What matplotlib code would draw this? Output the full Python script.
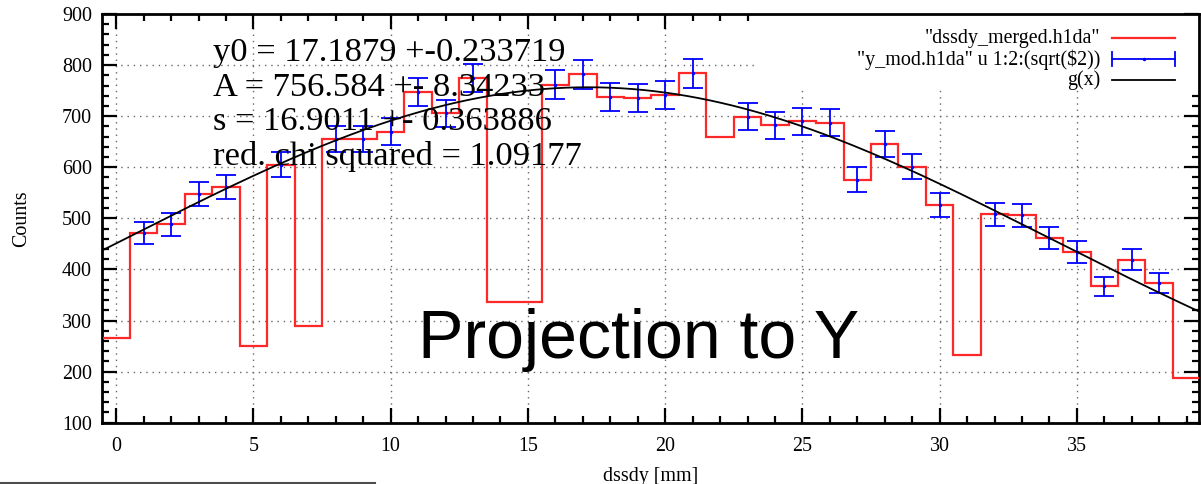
import numpy as np
import matplotlib.pyplot as plt
from matplotlib.lines import Line2D
from matplotlib.patches import Rectangle
from matplotlib.ticker import MultipleLocator

# counts per dssdy strip (bins centred on 0..39)
strips = np.arange(40)
counts = np.array([265, 472, 488, 548, 562, 250, 605, 289, 655, 655,
                   670, 747, 706, 775, 337, 337, 762, 782, 737, 735,
                   741, 784, 659, 699, 682, 690, 687, 576, 646, 601,
                   526, 233, 508, 506, 462, 434, 367, 419, 373, 187])
# strips left out of y_mod.h1da (dead / low strips)
dropped = [0, 5, 7, 14, 15, 22, 31, 39]

# gaussian fit result
y0, y0_err = 17.1879, 0.233719
A, A_err = 756.584, 8.34233
s, s_err = 16.9011, 0.363886
chi2_red = 1.09177

keep = np.isin(strips, dropped, invert=True)
x_mod = strips[keep]
y_mod = counts[keep]

serif = "Liberation Serif"
plt.rcParams["font.family"] = [serif, "DejaVu Serif"]

fig = plt.figure(figsize=(12.01, 4.84), dpi=100)
ax = fig.add_axes([101.7 / 1201, 61.3 / 484, 1097.3 / 1201, 408.7 / 484])

xmin, xmax = -0.53, 39.45
edges = np.arange(-0.5, 40.5, 1.0)
ax.stairs(counts, edges, baseline=None, color="#ff2828", lw=1.6, zorder=3)
ax.errorbar(x_mod, y_mod, yerr=np.sqrt(y_mod), fmt=".", ms=3, color="#0000ff",
            ecolor="#0000ff", elinewidth=1.3, capsize=7, capthick=1.3, zorder=4)

xs = np.linspace(xmin, xmax, 400)
ax.plot(xs, A * np.exp(-(xs - y0) ** 2 / (2 * s ** 2)), color="black", lw=1.3, zorder=5)

ax.set_xlim(xmin, xmax)
ax.set_ylim(100, 900)
ax.xaxis.set_major_locator(MultipleLocator(5))
ax.xaxis.set_minor_locator(MultipleLocator(1))
ax.yaxis.set_major_locator(MultipleLocator(100))
ax.yaxis.set_minor_locator(MultipleLocator(20))
ax.tick_params(which="both", direction="in", top=True, right=True, width=1.6,
               labelsize=14.4, colors="black")
ax.tick_params(which="major", length=10.8)
ax.tick_params(which="minor", length=5)
ax.tick_params(axis="x", pad=10.5)
ax.tick_params(axis="y", pad=7)
for sp in ax.spines.values():
    sp.set_linewidth(2)

ax.set_axisbelow(True)
ax.grid(True, which="major", color="0.4", linestyle=(0, (1, 3.5)), lw=1)

ax.set_xlabel("dssdy [mm]", fontsize=14.4, labelpad=8)
ax.set_ylabel("Counts", fontsize=14.4, labelpad=22)

# legend drawn by hand: right-aligned labels, samples to the right
ax.add_patch(Rectangle((0.597, 0.819), 0.403, 0.181, transform=ax.transAxes,
                       facecolor="white", edgecolor="none", zorder=1))
tx, s0, s1 = 0.9098, 0.9208, 0.9781
rows = [0.9401, 0.8888, 0.8374]
labels = ['"dssdy_merged.h1da"', '"y_mod.h1da" u 1:2:(sqrt($2))', "g(x)"]
for yy, lab in zip(rows, labels):
    ax.text(tx, yy, lab, transform=ax.transAxes, ha="right", va="center",
            fontsize=14.4)
ax.add_line(Line2D([s0, s1], [rows[0]] * 2, transform=ax.transAxes,
                   color="#ff2828", lw=1.6, clip_on=False))
ax.add_line(Line2D([s0, s1], [rows[1]] * 2, transform=ax.transAxes,
                   color="#0000ff", lw=1.3, clip_on=False))
for xc in (s0, s1):
    ax.add_line(Line2D([xc, xc], [rows[1] - 0.017, rows[1] + 0.017],
                       transform=ax.transAxes, color="#0000ff", lw=1.3))
ax.plot([(s0 + s1) / 2], [rows[1]], ".", ms=3, color="#0000ff", transform=ax.transAxes)
ax.add_line(Line2D([s0, s1], [rows[2]] * 2, transform=ax.transAxes,
                   color="black", lw=1.3, clip_on=False))

# fit parameters
fit_lines = [
    f"y0 = {y0} +-{y0_err}",
    f"A = {A} +- {A_err}",
    f"s = {s} +- {s_err}",
    f"red. chi squared = {chi2_red}",
]
for base, line in zip([61.5, 96, 130.5, 165], fit_lines):
    ax.text(0.1014, (422.7 - base) / 408.7, line, transform=ax.transAxes,
            ha="left", va="baseline", fontsize=24.8, zorder=6)

ax.text(0.2885, (422.7 - 358.3) / 408.7, "Projection to Y", transform=ax.transAxes,
        ha="left", va="baseline", fontsize=49, family=["Liberation Sans", "DejaVu Sans"],
        zorder=6)

fig.add_artist(Line2D([0, 375 / 1201], [1.3 / 484] * 2, transform=fig.transFigure,
                      color="0.3", lw=1.5))

fig.savefig("out.png", dpi=100)
